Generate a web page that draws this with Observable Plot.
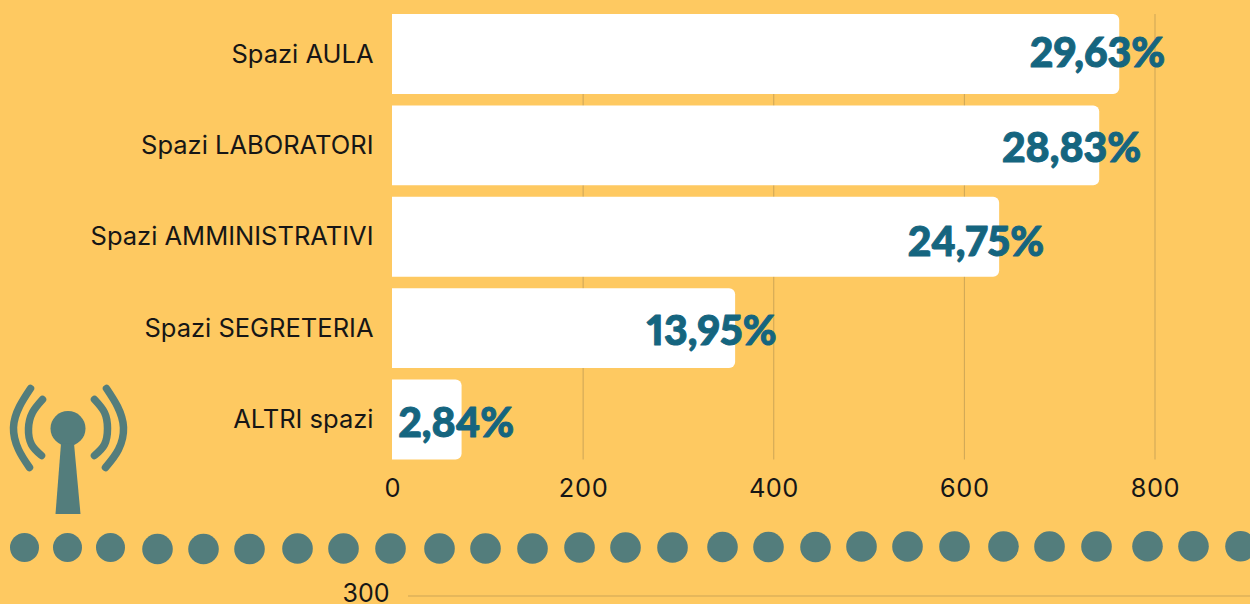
<!DOCTYPE html>
<html><head><meta charset="utf-8">
<script src="https://cdn.jsdelivr.net/npm/d3@7"></script>
<script src="https://cdn.jsdelivr.net/npm/@observablehq/plot@0.6"></script>
<style>
html,body{margin:0;padding:0;background:#fec961;overflow:hidden}
#c{position:relative;width:1250px;height:604px}
#c svg{position:absolute;left:0;top:0;background:transparent}
</style></head><body><div id="c"></div>
<script>
const categories=["Spazi AULA","Spazi LABORATORI","Spazi AMMINISTRATIVI","Spazi SEGRETERIA","ALTRI spazi"];
const counts=[763,742,637,360,73];
const shares=["29,63%","28,83%","24,75%","13,95%","2,84%"];
const xTicks=[0,200,400,600,800];
const labelDx=[45.5,41.5,44.5,41,52];
const labelDy=[-1,3,5.5,3,4];
const dotX=[24,67,110,157,203,249,297,343,390,439,485,532,579,625,672,722,768,815,861,907,954,1003,1049,1096,1147,1193,1240];
const dotY=[547,547,547,548.5,548.5,548.5,548,548,548,548,548,548,547,547,547,546.5,546.5,546.5,546,546,546,546,546,546,545.7,545.7,545.7];
const arcX={a:[30,19,13,18,29],b:[42,32,28,31,41],c:[106,117,123,118,105],d:[94,104,107,104,94]};
const arcY={a:[388,406,427,449,467],b:[399,412,428,444,455],c:[388,406,427,449,467],d:[399,412,428,444,455]};
const towerX=[60.5,73.5,80,55];
const towerY=[443,443,513.5,513.5];
const teal="#537d7c", blue="#15657f", grid="#cda556", ink="#161616";
const font="Inter, 'Open Sans', sans-serif";
const rows=categories.map((c,i)=>({c,v:counts[i],s:shares[i],dx:labelDx[i],dy:labelDy[i]}));

const main=Plot.plot({
  width:1250,height:604,
  marginLeft:392,marginRight:95.5,marginTop:14,marginBottom:144.5,
  style:{background:"transparent",fontFamily:font},
  x:{domain:[0,800],axis:null},
  y:{domain:categories,paddingInner:0.125,paddingOuter:0,round:false,axis:null},
  marks:[
    Plot.ruleX(xTicks.slice(1),{stroke:grid,strokeWidth:1}),
    Plot.barX(rows,{x:"v",y:"c",fill:"#fff",rx2:6}),
    Plot.axisY({anchor:"left",tickSize:0,tickPadding:19,fontSize:25.5,color:ink,label:null}),
    Plot.axisX({ticks:xTicks,anchor:"bottom",tickSize:0,tickPadding:19,fontSize:25.5,color:ink,label:null,tickFormat:d=>String(d)}),
    ...rows.map(r=>Plot.text([r],{x:"v",y:"c",text:"s",textAnchor:"end",dx:r.dx,dy:r.dy,fill:blue,stroke:blue,strokeWidth:1,fontSize:41,fontWeight:900,fontVariant:"proportional-nums",fontFamily:"Lato, sans-serif"}))
  ]
});
document.getElementById("c").append(main);

const arcs=Object.keys(arcX).flatMap(k=>arcX[k].map((x,i)=>({k,x,y:arcY[k][i]})));
const tower=towerX.map((x,i)=>({x,y:towerY[i]}));
const dots=dotX.map((x,i)=>({x,y:dotY[i]}));
const deco=Plot.plot({
  width:1250,height:604,margin:0,
  style:{background:"transparent",fontFamily:font},
  x:{domain:[0,1250],range:[0,1250],axis:null},
  y:{domain:[0,604],range:[0,604],axis:null},
  r:{type:"identity"},
  marks:[
    Plot.line(arcs,{x:"x",y:"y",z:"k",stroke:teal,strokeWidth:7.5,strokeLinecap:"round",curve:"natural"}),
    Plot.dot([{x:67.5,y:428}],{x:"x",y:"y",r:17.5,fill:teal}),
    Plot.line(tower,{x:"x",y:"y",fill:teal,stroke:"none",curve:"linear-closed"}),
    Plot.dot(dots,{x:"x",y:"y",r:d=>d.x<120?14.5:15.3,fill:teal}),
    Plot.ruleY([595.5],{x1:408,x2:1250,stroke:grid,strokeWidth:1}),
    Plot.text(["300"],{x:389,y:593.5,text:d=>d,textAnchor:"end",fontSize:25,fill:ink})
  ]
});
document.getElementById("c").append(deco);
</script></body></html>
